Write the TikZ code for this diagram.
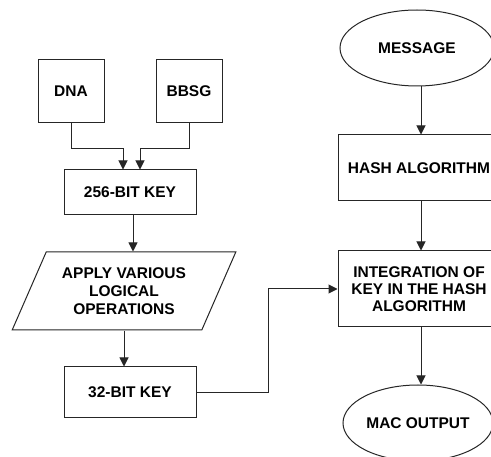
\documentclass[tikz,border=0pt]{standalone}
\usepackage{fontspec}
\setmainfont{Liberation Sans}
\usetikzlibrary{shapes.geometric,arrows.meta}
\begin{document}
\begin{tikzpicture}[x=1pt,y=-1pt,
  every node/.style={font=\fontsize{15.5}{17}\selectfont\bfseries, text=black, align=center, inner sep=0pt},
  box/.style={draw=black!85, line width=1pt, rectangle},
  oval/.style={draw=black!85, line width=1pt, ellipse},
  para/.style={draw=black!85, line width=1pt, trapezium, trapezium left angle=60, trapezium right angle=120, trapezium stretches=true},
  arr/.style={draw=black!85, line width=1pt, -{Triangle[length=9pt,width=9pt]}}]
\useasboundingbox (0,0) rectangle (491,457);
\clip (0,0) rectangle (491,457);
\fill[white] (0,0) rectangle (491,457);
% left column
\node[box, minimum width=66pt, minimum height=63pt] (dna) at (71,91.5) {DNA};
\node[box, minimum width=66pt, minimum height=63pt] (bbsg) at (189,91.5) {BBSG};
\node[box, minimum width=132pt, minimum height=45pt] (k256) at (130,192.5) {256-BIT KEY};
\node[para, minimum width=224pt, minimum height=78pt, font=\fontsize{15.5}{18}\selectfont\bfseries] (ops) at (124,291) {APPLY VARIOUS\\LOGICAL\\OPERATIONS};
\node[box, minimum width=132pt, minimum height=51pt] (k32) at (130,392.5) {32-BIT KEY};
% right column
\node[oval, minimum width=154pt, minimum height=76pt] (msg) at (417,48) {MESSAGE};
\node[box, minimum width=162pt, minimum height=66pt] (hash) at (419,168) {HASH ALGORITHM};
\node[box, minimum width=162pt, minimum height=76pt] (integ) at (419,289) {INTEGRATION OF\\KEY IN THE HASH\\ALGORITHM};
\node[oval, minimum width=150pt, minimum height=76pt] (mac) at (418,423) {MAC OUTPUT};
% connectors
\draw[arr] (dna.south) -- ++(0,25) -| ([xshift=-7pt]k256.north);
\draw[arr] (bbsg.south) -- ++(0,25) -| ([xshift=10pt]k256.north);
\draw[arr] ([xshift=3pt]k256.south) -- ([xshift=3pt]k256.south |- ops.north);
\draw[arr] (ops.south) -- (ops.south |- k32.north);
\draw[arr] (k32.east) -- ++(72,0) |- (integ.west);
\draw[arr] ([xshift=4pt]msg.south) -- ([xshift=4pt]msg.south |- hash.north);
\draw[arr] ([xshift=2pt]hash.south) -- ([xshift=2pt]integ.north);
\draw[arr] ([xshift=2pt]integ.south) -- ([xshift=2pt]integ.south |- mac.north);
\end{tikzpicture}
\end{document}
